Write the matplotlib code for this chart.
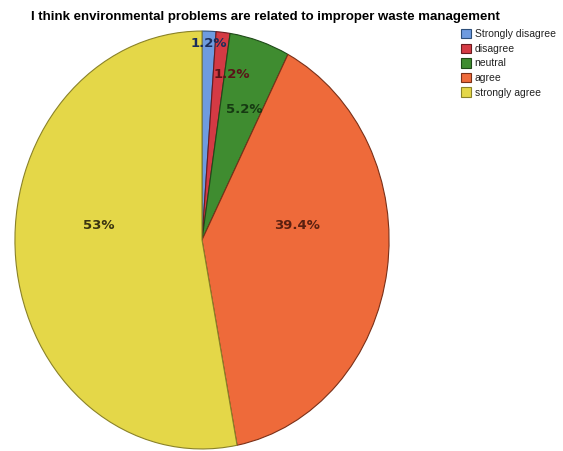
import numpy as np
import matplotlib.pyplot as plt

labels = ["Strongly disagree", "disagree", "neutral", "agree", "strongly agree"]
values = [1.2, 1.2, 5.2, 39.4, 53.0]
pct_text = ["1.2%", "1.2%", "5.2%", "39.4%", "53%"]

colors = ["#6e9be0", "#d43a44", "#3f8c30", "#ee6a3a", "#e4d748"]
edge_colors = ["#2d4f7a", "#6a1c20", "#1f4a18", "#7a3018", "#8a8228"]
text_colors = ["#1c2e5a", "#5a1418", "#163a12", "#5a2010", "#3a3410"]

# label radius and angle shift (deg) per wedge
label_r = [0.94, 0.81, 0.665, 0.515, 0.557]
label_shift = [0, -5, -2, 16, -12.4]

fig = plt.figure(figsize=(5.63, 4.51), dpi=100)
ax = fig.add_axes([14 / 563, 1 / 451, 376 / 563, 420 / 451])

wedges, _ = ax.pie(values, colors=colors, startangle=90, counterclock=False,
                   radius=1, wedgeprops=dict(linewidth=0.8))
for w, ec in zip(wedges, edge_colors):
    w.set_edgecolor(ec)

for w, txt, tc, r, sh in zip(wedges, pct_text, text_colors, label_r, label_shift):
    ang = np.deg2rad((w.theta1 + w.theta2) / 2 + sh)
    ax.text(r * np.cos(ang), r * np.sin(ang), txt, ha="center", va="center",
            fontsize=9.5, fontweight="bold", color=tc, family="DejaVu Sans")

ax.set_aspect("auto")
ax.set_xlim(-1.005, 1.005)
ax.set_ylim(-1.005, 1.005)
ax.axis("off")

fig.text(265 / 563, 1 - 17 / 451,
         "I think environmental problems are related to improper waste management",
         ha="center", va="center", fontsize=9.5, fontweight="bold",
         family=["Liberation Sans", "DejaVu Sans"])

leg = fig.legend(wedges, labels, loc="upper left", bbox_to_anchor=(461 / 563, 1 - 29 / 451),
                 frameon=False, handlelength=1.0, handleheight=1.0,
                 handletextpad=0.3, labelspacing=0.42, borderaxespad=0, borderpad=0,
                 prop={"family": ["Liberation Sans"], "size": 7.5})
for t in leg.get_texts():
    t.set_color("#222222")

fig.savefig("out.png", dpi=100)
